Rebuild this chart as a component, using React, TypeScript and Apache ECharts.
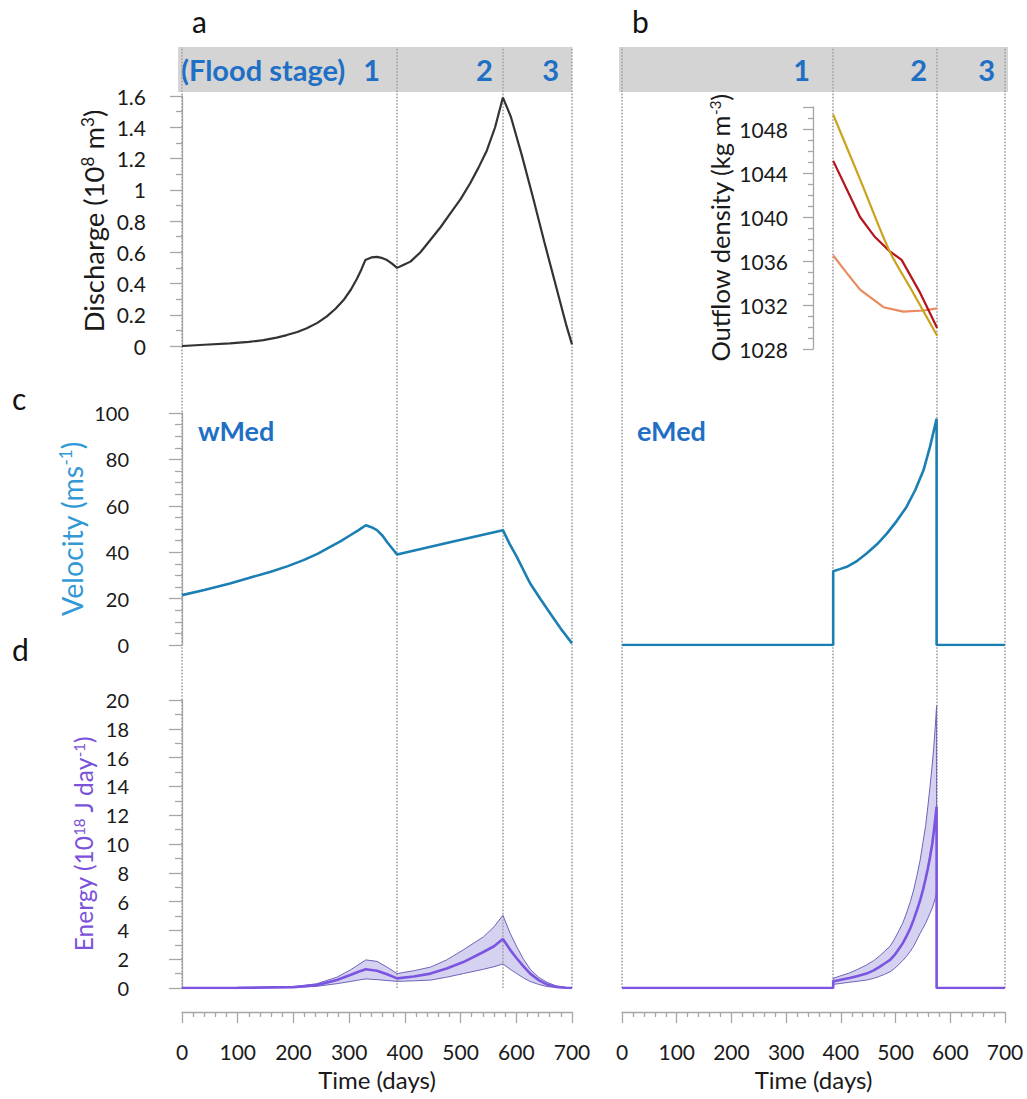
import React, { useEffect, useRef } from 'react';
import * as echarts from 'echarts';

const FONT = 'Lato, "Noto Sans", sans-serif';
const AXIS = '#a6a6a6';
const BLUE_TXT = '#1f6fc5';

// Stage boundaries (days)
const stageLines = [0, 386, 576, 700];

// Panel a: discharge (1e8 m3)
const dischargeDays = [0, 40, 86, 120, 146, 170, 188, 207, 224, 243, 260, 276, 290, 303, 314, 322, 329, 340, 350, 360, 368, 377, 386, 398, 410, 428, 446, 464, 482, 500, 517, 532, 547, 562, 576, 590, 610, 630, 650, 670, 690, 700];
const dischargeVals = [0.0, 0.008, 0.017, 0.026, 0.038, 0.054, 0.07, 0.09, 0.113, 0.148, 0.19, 0.24, 0.294, 0.36, 0.43, 0.49, 0.55, 0.567, 0.57, 0.562, 0.55, 0.527, 0.5, 0.52, 0.54, 0.6, 0.68, 0.76, 0.85, 0.94, 1.04, 1.14, 1.25, 1.4, 1.59, 1.47, 1.22, 0.95, 0.67, 0.4, 0.13, 0.01];

// Panel b: outflow density (kg m-3)
const goldDays = [386, 437, 489, 530, 576];
const goldVals = [1049.3, 1043.2, 1036.9, 1033.3, 1029.2];
const redDays = [386, 411, 435, 462, 489, 511, 545, 576];
const redVals = [1045.1, 1042.5, 1040.0, 1038.2, 1036.9, 1036.1, 1033.1, 1029.9];
const salmonDays = [386, 411, 435, 478, 514, 551, 576];
const salmonVals = [1036.5, 1034.9, 1033.4, 1031.8, 1031.4, 1031.5, 1031.7];

// Panel c: velocity (m s-1)
const velDaysW = [0, 40, 86, 120, 158, 190, 218, 244, 266, 285, 302, 317, 330, 340, 350, 360, 368, 377, 386, 481, 576, 588, 601, 613, 625, 643, 661, 680, 700];
const velValsW = [21.5, 23.7, 26.5, 28.9, 31.5, 34.0, 36.6, 39.4, 42.3, 44.8, 47.3, 49.5, 51.6, 50.8, 49.5, 47.1, 44.4, 41.7, 39.0, 44.3, 49.5, 43.6, 38.0, 32.2, 26.5, 19.9, 13.6, 7.0, 0.7];
const velDaysE = [0, 386, 386, 398, 411, 430, 447, 466, 484, 502, 520, 536, 551, 563, 575, 575, 700];
const velValsE = [0, 0, 31.8, 32.7, 33.7, 36.3, 39.4, 43.4, 48.0, 53.4, 59.5, 66.8, 75.3, 85.5, 97.5, 0, 0];

// Panel d: energy (1e18 J day-1), median and band limits
const eDaysW = [0, 100, 200, 242, 278, 302, 318, 330, 350, 368, 386, 416, 446, 475, 505, 541, 560, 576, 589, 601, 613, 625, 640, 655, 671, 688, 700];
const eMidW = [0, 0.01, 0.06, 0.2, 0.55, 0.9, 1.15, 1.3, 1.2, 0.95, 0.67, 0.8, 1.0, 1.35, 1.8, 2.5, 2.9, 3.4, 2.65, 2.05, 1.5, 1.0, 0.55, 0.25, 0.08, 0.02, 0];
const eUpW = [0, 0.01, 0.08, 0.3, 0.75, 1.25, 1.65, 1.95, 1.85, 1.45, 1.0, 1.2, 1.45, 1.95, 2.65, 3.55, 4.25, 5.05, 3.8, 2.85, 2.0, 1.3, 0.75, 0.4, 0.15, 0.05, 0];
const eLoW = [0, 0.01, 0.04, 0.12, 0.3, 0.45, 0.56, 0.63, 0.58, 0.52, 0.46, 0.5, 0.55, 0.75, 1.0, 1.3, 1.48, 1.67, 1.3, 1.0, 0.7, 0.45, 0.25, 0.1, 0.04, 0.01, 0];
const eDaysE = [0, 386, 386, 400, 416, 431, 447, 460, 470, 480, 490, 498, 505, 513, 520, 527, 533, 539, 545, 550, 555, 559, 563, 567, 570, 573, 575, 575, 700];
const eMidE = [0, 0, 0.45, 0.57, 0.7, 0.84, 1.0, 1.22, 1.45, 1.7, 1.95, 2.28, 2.65, 3.1, 3.6, 4.15, 4.75, 5.4, 6.1, 6.8, 7.6, 8.3, 9.1, 10.0, 10.9, 11.9, 12.6, 0, 0];
const eUpE = [0, 0, 0.67, 0.85, 1.05, 1.3, 1.6, 1.9, 2.2, 2.55, 2.9, 3.4, 3.9, 4.5, 5.2, 6.0, 6.8, 7.8, 8.9, 10.1, 11.3, 12.6, 14.0, 15.5, 16.8, 18.4, 19.6, 0, 0];
const eLoE = [0, 0, 0.25, 0.32, 0.4, 0.47, 0.55, 0.67, 0.8, 0.95, 1.13, 1.35, 1.6, 1.9, 2.2, 2.55, 2.9, 3.35, 3.8, 4.15, 4.5, 4.85, 5.2, 5.55, 5.9, 6.3, 6.6, 0, 0];

// Header labels
const headerLeft = [
  { from: -7, to: 386, text: '1', dist: 17 },
  { from: 386, to: 576, text: '2', dist: 10 },
  { from: 576, to: 700, text: '3', dist: 13 },
];
const headerRight = [
  { from: -5.5, to: 386, text: '1', dist: 23 },
  { from: 386, to: 576, text: '2', dist: 10 },
  { from: 576, to: 705.5, text: '3', dist: 13 },
];

const pairs = (xs: number[], ys: number[]) => xs.map((x, i) => [x, ys[i]]);

const hiddenX = (g: number, min = 0, max = 700) => ({ gridIndex: g, type: 'value', min, max, show: false });
const hiddenY = (g: number, min = 0, max = 1) => ({ gridIndex: g, type: 'value', min, max, show: false });

const sup = (color: string, size: number) => ({
  t: { fontFamily: FONT, fontSize: size, color },
  s: { fontFamily: FONT, fontSize: Math.round(size * 0.6), color, verticalAlign: 'top' },
});

function yAx(o: any) {
  return {
    gridIndex: o.grid,
    type: 'value',
    min: o.min,
    max: o.max,
    interval: o.interval,
    offset: o.offset,
    axisLine: { show: true, lineStyle: { color: AXIS, width: 1.3 } },
    axisTick: { show: true, length: o.tick, lineStyle: { color: AXIS, width: 1.3 } },
    minorTick: { show: true, splitNumber: o.split, length: o.minor, lineStyle: { color: AXIS, width: 1.3 } },
    splitLine: { show: false },
    minorSplitLine: { show: false },
    axisLabel: {
      margin: o.margin,
      fontFamily: FONT,
      fontSize: o.labelSize,
      color: '#1a1a1a',
      showMaxLabel: o.showMax !== false,
      formatter: o.formatter,
    },
    name: o.name,
    nameLocation: 'middle',
    nameRotate: 90,
    nameGap: o.nameGap,
    nameTextStyle: { fontFamily: FONT, fontSize: o.nameSize, color: o.nameColor, rich: sup(o.nameColor, o.nameSize) },
  };
}

function xBottom(g: number) {
  return {
    gridIndex: g,
    type: 'value',
    min: 0,
    max: 700,
    interval: 100,
    offset: 24,
    position: 'bottom',
    axisLine: { show: true, onZero: false, lineStyle: { color: AXIS, width: 1.3 } },
    axisTick: { show: true, length: 11, lineStyle: { color: AXIS, width: 1.3 } },
    minorTick: { show: true, splitNumber: 5, length: 5, lineStyle: { color: AXIS, width: 1.3 } },
    splitLine: { show: false },
    axisLabel: { margin: 29, fontFamily: FONT, fontSize: 21, color: '#1a1a1a' },
    name: 'Time (days)',
    nameLocation: 'middle',
    nameGap: 55,
    nameTextStyle: { fontFamily: FONT, fontSize: 24, color: '#1a1a1a' },
  };
}

function headerSeries(g: number, items: any[], withFlood: boolean) {
  const data: any[] = items.map((it) => [
    {
      xAxis: it.from,
      name: it.text,
      label: { show: true, position: 'insideRight', distance: it.dist },
    },
    { xAxis: it.to },
  ]);
  if (withFlood) {
    data.push([
      {
        xAxis: items[0].from,
        name: '(Flood stage)',
        itemStyle: { color: 'rgba(0,0,0,0)' },
        label: { show: true, position: 'insideLeft', distance: 3 },
      },
      { xAxis: items[0].to },
    ]);
  }
  return {
    type: 'line',
    xAxisIndex: g,
    yAxisIndex: g,
    data: [[0, 0]],
    showSymbol: false,
    lineStyle: { opacity: 0 },
    silent: true,
    z: 1,
    markArea: {
      silent: true,
      itemStyle: { color: '#d4d4d4' },
      label: { fontFamily: FONT, fontSize: 29, fontWeight: 'bold', color: BLUE_TXT },
      data,
    },
  };
}

function stageSeries(g: number) {
  return {
    type: 'line',
    xAxisIndex: g,
    yAxisIndex: g,
    data: [[0, 0]],
    showSymbol: false,
    lineStyle: { opacity: 0 },
    silent: true,
    z: 2,
    markLine: {
      silent: true,
      symbol: 'none',
      label: { show: false },
      lineStyle: { type: 'dotted', color: '#a0a0a0', width: 1.6 },
      data: stageLines.map((d) => ({ xAxis: d })),
    },
  };
}

function line(g: number, data: number[][], color: string, width: number, extra: any = {}) {
  return {
    type: 'line',
    xAxisIndex: g,
    yAxisIndex: g,
    data,
    showSymbol: false,
    symbol: 'none',
    lineStyle: { color, width },
    silent: true,
    z: 5,
    ...extra,
  };
}

function band(g: number, days: number[], lo: number[], up: number[], mid: number[]) {
  const fill = {
    type: 'custom',
    xAxisIndex: g,
    yAxisIndex: g,
    silent: true,
    z: 4,
    clip: true,
    data: days.map((d, i) => [d, lo[i], up[i]]),
    encode: { x: 0, y: [1, 2] },
    renderItem: (params: any, api: any) => {
      if (params.dataIndex !== 0) return null;
      const pts: number[][] = [];
      for (let i = 0; i < days.length; i++) pts.push(api.coord([days[i], up[i]]));
      for (let i = days.length - 1; i >= 0; i--) pts.push(api.coord([days[i], lo[i]]));
      return { type: 'polygon', shape: { points: pts }, style: { fill: '#d5d1f1' } };
    },
  };
  return [
    fill,
    line(g, pairs(days, lo), '#6d64b8', 1),
    line(g, pairs(days, up), '#6d64b8', 1),
    line(g, pairs(days, mid), '#7b55e0', 2.6, { z: 6 }),
  ];
}

const option: any = {
  animation: false,
  backgroundColor: '#ffffff',
  textStyle: { fontFamily: FONT },
  grid: [
    { left: 178, top: 47, width: 394, height: 45 }, // 0 header left
    { left: 619, top: 47, width: 389, height: 45 }, // 1 header right
    { left: 182, top: 47, width: 390, height: 941 }, // 2 overlay left
    { left: 622, top: 47, width: 383, height: 941 }, // 3 overlay right
    { left: 182, top: 96, width: 390, height: 250 }, // 4 discharge
    { left: 622, top: 107, width: 383, height: 242 }, // 5 density inset
    { left: 182, top: 413, width: 390, height: 232 }, // 6 velocity left
    { left: 622, top: 413, width: 383, height: 232 }, // 7 velocity right
    { left: 182, top: 700, width: 390, height: 288 }, // 8 energy left
    { left: 622, top: 700, width: 383, height: 288 }, // 9 energy right
  ],
  xAxis: [
    hiddenX(0, -7, 700),
    hiddenX(1, -5.5, 705.5),
    hiddenX(2),
    hiddenX(3),
    hiddenX(4),
    hiddenX(5),
    hiddenX(6),
    hiddenX(7),
    xBottom(8),
    xBottom(9),
  ],
  yAxis: [
    hiddenY(0),
    hiddenY(1),
    hiddenY(2),
    hiddenY(3),
    yAx({
      grid: 4, min: 0, max: 1.6, interval: 0.2, split: 2, offset: 12, tick: 12, minor: 6, margin: 24, labelSize: 21,
      name: '{t|Discharge (10}{s|8}{t| m}{s|3}{t|)}', nameColor: '#1a1a1a', nameGap: 63, nameSize: 27.5,
    }),
    yAx({
      grid: 5, min: 1028, max: 1050, interval: 4, split: 4, offset: -191, tick: 10, minor: 5, margin: 25, labelSize: 21,
      name: '{t|Outflow density (kg m}{s|-3}{t|)}', nameColor: '#1a1a1a', nameGap: 80, nameSize: 25.5, showMax: false,
      formatter: (v: number) => (v === 1050 ? '' : String(v)),
    }),
    yAx({
      grid: 6, min: 0, max: 100, interval: 20, split: 4, offset: 27, tick: 13, minor: 7, margin: 26, labelSize: 20,
      name: '{t|Velocity (ms}{s|-1}{t|)}', nameColor: '#3399d6', nameGap: 69, nameSize: 28.5,
    }),
    hiddenY(7, 0, 100),
    yAx({
      grid: 8, min: 0, max: 20, interval: 2, split: 2, offset: 27, tick: 13, minor: 7, margin: 26, labelSize: 20,
      name: '{t|Energy (10}{s|18}{t| J day}{s|-1}{t|)}', nameColor: '#7b52d9', nameGap: 59, nameSize: 24.5,
    }),
    hiddenY(9, 0, 20),
  ],
  series: [
    headerSeries(0, headerLeft, true),
    headerSeries(1, headerRight, false),
    stageSeries(2),
    stageSeries(3),
    line(4, pairs(dischargeDays, dischargeVals), '#333333', 2.2),
    line(5, pairs(salmonDays, salmonVals), '#e98a5f', 2.2),
    line(5, pairs(redDays, redVals), '#b5141c', 2.2),
    line(5, pairs(goldDays, goldVals), '#c9a31a', 2.2, { smooth: 0.3 }),
    line(6, pairs(velDaysW, velValsW), '#1b7fb3', 2.6),
    line(7, pairs(velDaysE, velValsE), '#1b7fb3', 2.6),
    ...band(8, eDaysW, eLoW, eUpW, eMidW),
    ...band(9, eDaysE, eLoE, eUpE, eMidE),
  ],
  graphic: [
    { type: 'text', left: 192, top: 6, style: { text: 'a', fontFamily: FONT, fontSize: 30, fill: '#111' } },
    { type: 'text', left: 632, top: 6, style: { text: 'b', fontFamily: FONT, fontSize: 30, fill: '#111' } },
    { type: 'text', left: 12, top: 383, style: { text: 'c', fontFamily: FONT, fontSize: 30, fill: '#111' } },
    { type: 'text', left: 12, top: 634, style: { text: 'd', fontFamily: FONT, fontSize: 30, fill: '#111' } },
    { type: 'text', left: 198, top: 417, style: { text: 'wMed', fontFamily: FONT, fontSize: 27, fontWeight: 'bold', fill: BLUE_TXT } },
    { type: 'text', left: 637, top: 417, style: { text: 'eMed', fontFamily: FONT, fontSize: 27, fontWeight: 'bold', fill: BLUE_TXT } },
  ],
};

export default function App() {
  const ref = useRef<HTMLDivElement>(null);
  useEffect(() => {
    document.body.style.margin = '0';
    const chart = echarts.init(ref.current as HTMLDivElement, null, { renderer: 'svg' });
    chart.setOption(option);
    return () => chart.dispose();
  }, []);
  return <div ref={ref} style={{ width: 1027, height: 1099 }} />;
}
